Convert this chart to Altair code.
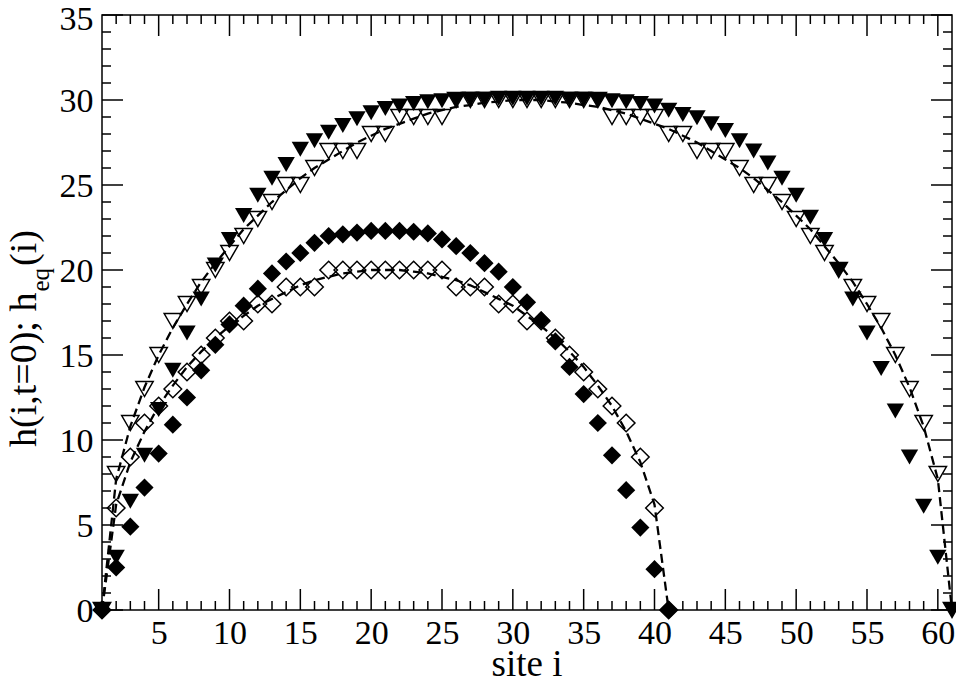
import altair as alt
import pandas as pd

# ---------------- data ----------------
sites_60 = list(range(1, 62))
sites_40 = list(range(1, 42))

# filled triangles: h(i, t=0), L = 60
h_t0_60 = [0, 3.1, 6.4, 9.1, 11.8, 14.1, 16.3, 18.3, 20.3, 21.8,
           23.2, 24.4, 25.4, 26.2, 27.1, 27.6, 28.1, 28.5, 28.9, 29.25,
           29.5, 29.65, 29.8, 29.9, 29.95, 30.0, 30.05, 30.05, 30.1, 30.1,
           30.1, 30.1, 30.1, 30.05, 30.05, 30.0, 29.95, 29.9, 29.8, 29.65,
           29.4, 29.15, 28.95, 28.6, 28.2, 27.6, 27.0, 26.3, 25.4, 24.4,
           23.1, 21.8, 20.0, 18.3, 16.3, 14.2, 11.7, 9.0, 6.1, 3.1, 0]

# open triangles: integer equilibrium profile, L = 60
h_int_60 = [0, 8, 11, 13, 15, 17, 18, 19, 20, 21, 22, 23, 24, 25, 25, 26,
            27, 27, 27, 28, 28, 29, 29, 29, 29, 30, 30, 30, 30, 30, 30, 30,
            30, 30, 30, 30, 29, 29, 29, 29, 28, 28, 27, 27, 27, 26, 25, 25,
            24, 23, 22, 21, 20, 19, 18, 17, 15, 13, 11, 8, 0]

# dashed curve h_eq(i), L = 60
h_eq_60 = [0, 7.7, 10.8, 13.1, 15.0, 16.6, 18.0, 19.3, 20.4, 21.4,
           22.4, 23.2, 24.0, 24.7, 25.4, 26.0, 26.5, 27.0, 27.5, 27.9,
           28.3, 28.6, 28.9, 29.2, 29.4, 29.6, 29.7, 29.85, 29.9, 30.0,
           30.0, 30.0, 29.9, 29.85, 29.7, 29.6, 29.4, 29.2, 28.9, 28.6,
           28.3, 27.9, 27.5, 27.0, 26.5, 26.0, 25.4, 24.7, 24.0, 23.2,
           22.4, 21.4, 20.4, 19.3, 18.0, 16.6, 15.0, 13.1, 10.8, 7.7, 0]

# filled diamonds: h(i, t=0), L = 40
h_t0_40 = [0, 2.5, 4.9, 7.2, 9.2, 10.9, 12.5, 14.1, 15.6, 16.8,
           17.9, 18.9, 19.8, 20.5, 21.0, 21.6, 22.0, 22.1, 22.2, 22.3,
           22.3, 22.3, 22.25, 22.15, 21.8, 21.4, 21.0, 20.4, 19.9, 19.0,
           18.1, 17.05, 15.8, 14.3, 12.7, 11.0, 9.1, 7.05, 4.85, 2.4, 0]

# open diamonds: integer equilibrium profile, L = 40
h_int_40 = [0, 6, 9, 11, 12, 13, 14, 15, 16, 17, 17, 18, 18, 19, 19, 19,
            20, 20, 20, 20, 20, 20, 20, 20, 20, 19, 19, 19, 18, 18, 17, 17,
            16, 15, 14, 13, 12, 11, 9, 6, 0]

# dashed curve h_eq(i), L = 40
h_eq_40 = [0, 6.2, 8.7, 10.5, 12.0, 13.2, 14.3, 15.2, 16.0, 16.7,
           17.3, 17.9, 18.3, 18.7, 19.1, 19.4, 19.6, 19.8, 19.9, 20.0,
           20.0, 20.0, 19.9, 19.8, 19.6, 19.4, 19.1, 18.7, 18.3, 17.9,
           17.3, 16.7, 16.0, 15.2, 14.3, 13.2, 12.0, 10.5, 8.7, 6.2, 0]

x_major = [5, 10, 15, 20, 25, 30, 35, 40, 45, 50, 55, 60]
x_minor = [v for v in range(2, 61) if v % 5 != 0]
y_major = [0, 5, 10, 15, 20, 25, 30, 35]
y_minor = [v for v in range(1, 35) if v % 5 != 0]

x_title = "site i"
y_title_main = "h(i,t=0); h"
y_title_sub = "eq"
y_title_end = "(i)"

# ---------------- layout / style ----------------
W, H = 850, 595
FONT = "Liberation Serif"
MAJ, MIN = 21, 9

xs = alt.Scale(domain=[1, 61], nice=False, zero=False)
ys = alt.Scale(domain=[0, 35], nice=False, zero=False)

x_axis = alt.Axis(values=x_major, ticks=False, tickSize=0, domain=False, grid=False,
                  labelFont=FONT, labelFontSize=34, labelColor="black",
                  labelPadding=6, labelOverlap=False, labelFlush=False, title=None)
y_axis = alt.Axis(values=y_major, ticks=False, tickSize=0, domain=False, grid=False,
                  labelFont=FONT, labelFontSize=34, labelColor="black",
                  labelPadding=9, labelOverlap=False, labelFlush=False, title=None,
                  labelOffset={"condition": {"test": "datum.value == 35", "value": 4},
                               "value": 1})

X = alt.X("site:Q", scale=xs, axis=x_axis)
Y = alt.Y("h:Q", scale=ys, axis=y_axis)


def frame(sites, vals):
    return pd.DataFrame({"site": sites, "h": vals})


layers = []

# tick marks, pointing inward on all four sides
for vals, ln in ((x_major, MAJ), (x_minor, MIN)):
    d = pd.DataFrame({"site": vals})
    layers.append(alt.Chart(d).mark_rule(color="black", strokeWidth=1.5).encode(
        x=X, y=alt.value(H), y2=alt.value(H - ln)))
    layers.append(alt.Chart(d).mark_rule(color="black", strokeWidth=1.5).encode(
        x=X, y=alt.value(0), y2=alt.value(ln)))
for vals, ln in ((y_major, MAJ), (y_minor, MIN)):
    d = pd.DataFrame({"h": vals})
    layers.append(alt.Chart(d).mark_rule(color="black", strokeWidth=1.5).encode(
        y=Y, x=alt.value(0), x2=alt.value(ln)))
    layers.append(alt.Chart(d).mark_rule(color="black", strokeWidth=1.5).encode(
        y=Y, x=alt.value(W), x2=alt.value(W - ln)))

# symbols
layers.append(alt.Chart(frame(sites_60, h_t0_60)).mark_point(
    shape="triangle-down", filled=True, color="black", size=300, opacity=1).encode(x=X, y=Y))
layers.append(alt.Chart(frame(sites_40, h_t0_40)).mark_point(
    shape="diamond", filled=True, color="black", size=330, opacity=1).encode(x=X, y=Y))
layers.append(alt.Chart(frame(sites_60, h_int_60)).mark_point(
    shape="triangle-down", filled=False, color="black", strokeWidth=1.5,
    size=300, opacity=1).encode(x=X, y=Y))
layers.append(alt.Chart(frame(sites_40, h_int_40)).mark_point(
    shape="diamond", filled=False, color="black", strokeWidth=1.5,
    size=310, opacity=1).encode(x=X, y=Y))

# dashed equilibrium curves
for s, v in ((sites_60, h_eq_60), (sites_40, h_eq_40)):
    layers.append(alt.Chart(frame(s, v)).mark_line(
        color="black", strokeWidth=2.3, strokeDash=[9, 5]).encode(x=X, y=Y))

# axis titles (y title with subscript)
MAIN_FS, SUB_FS = 38, 25
y0 = 447 - 15
l_main = 4.064 * MAIN_FS
l_sub = 0.944 * SUB_FS


def txt(t, **kw):
    return alt.Chart(pd.DataFrame({"t": [t]})).mark_text(
        font=FONT, color="black", **kw)


layers.append(txt(y_title_main, angle=270, align="left", baseline="alphabetic",
                  fontSize=MAIN_FS).encode(x=alt.value(-66), y=alt.value(y0), text="t:N"))
layers.append(txt(y_title_sub, angle=270, align="left", baseline="alphabetic",
                  fontSize=SUB_FS).encode(x=alt.value(-53), y=alt.value(y0 - l_main - 1), text="t:N"))
layers.append(txt(y_title_end, angle=270, align="left", baseline="alphabetic",
                  fontSize=MAIN_FS).encode(x=alt.value(-66), y=alt.value(y0 - l_main - l_sub - 3), text="t:N"))
layers.append(txt(x_title, align="center", baseline="alphabetic",
                  fontSize=37).encode(x=alt.value(W / 2), y=alt.value(661), text="t:N"))

chart = alt.layer(*layers).properties(
    width=W, height=H,
    autosize=alt.AutoSizeParams(type="none"),
    padding={"left": 94, "top": 7, "right": 4, "bottom": 67},
    background="white",
).configure_view(stroke="black", strokeWidth=1.5)

chart.save("out.html", embed_options={"renderer": "svg", "actions": False})
